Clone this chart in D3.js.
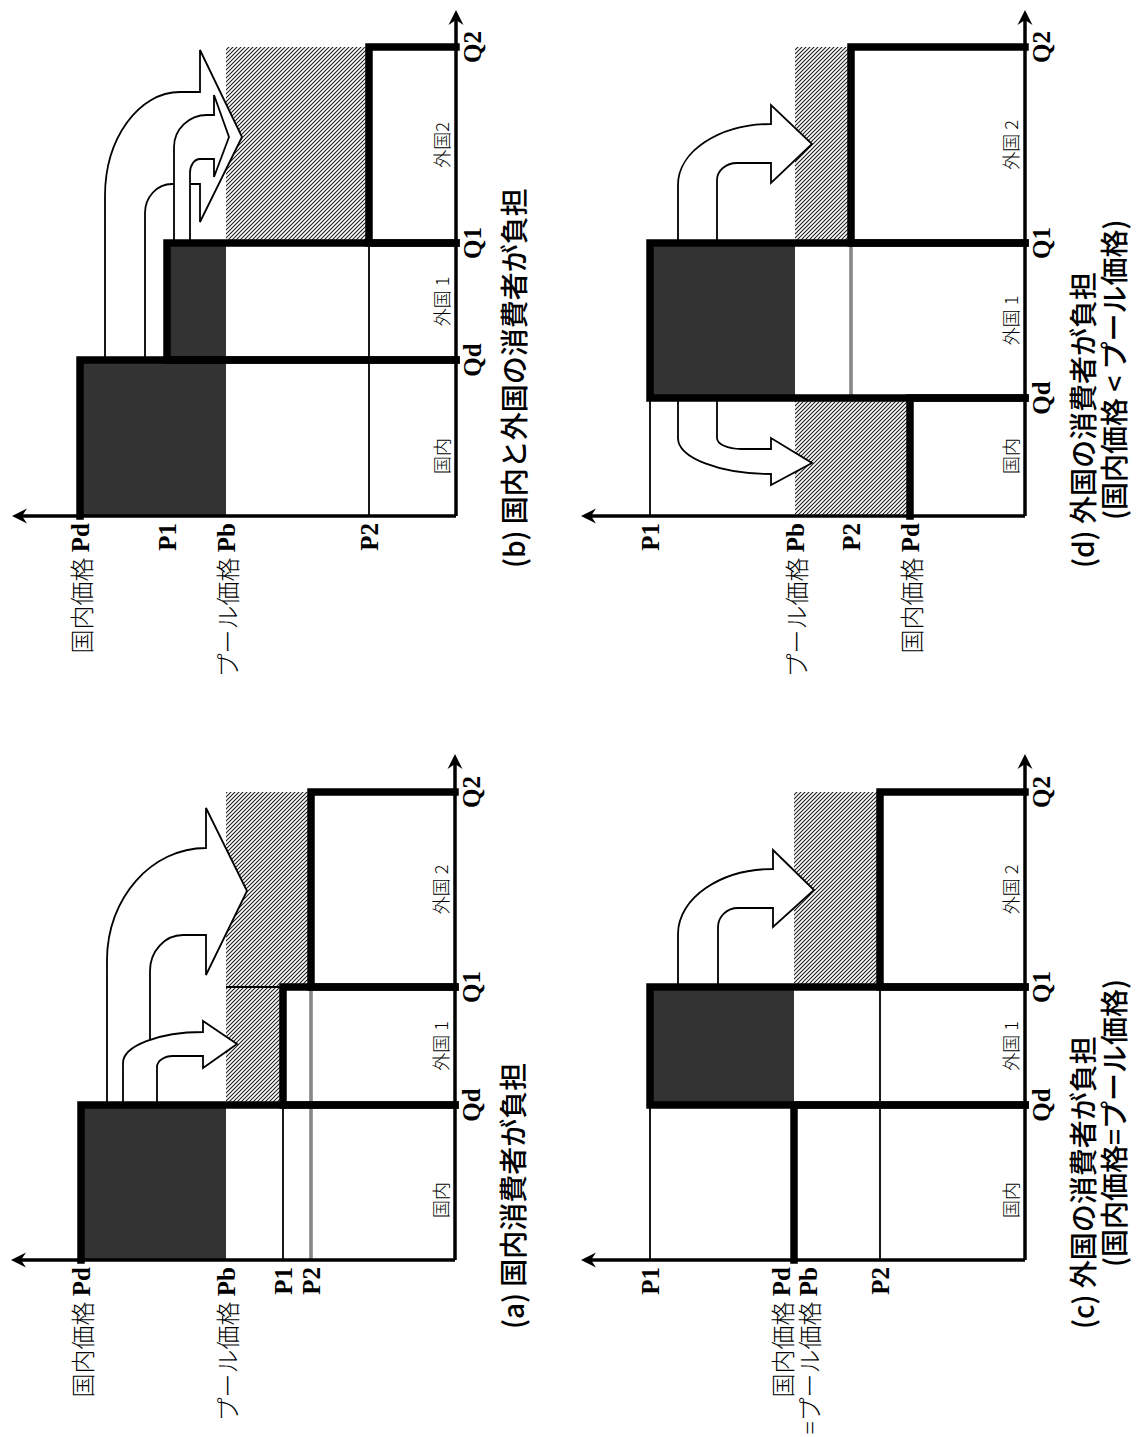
<!DOCTYPE html>
<html><head><meta charset="utf-8">
<script src="https://cdn.jsdelivr.net/npm/d3@7"></script>
<style>body{margin:0;background:#fff}</style>
</head><body>
<svg id="chart" width="1136" height="1437"></svg>
<script>
// ---------------- data (diagram units) ----------------
const qtyKeys = ["Qd", "Q1", "Q2"];
const priceKeys = ["Pd", "Pb", "P1", "P2"];

const qtyA = [155, 273, 468], priceA = [374, 229, 172, 144];
const qtyB = [156, 273, 469], priceB = [376, 230, 289, 87];
const qtyC = [155, 273, 468], priceC = [231, 231, 375, 145];
const qtyD = [118, 273, 469], priceD = [115, 230, 375, 174];

const barLabelsA = ["国内", "外国 1", "外国 2"];
const barLabelsB = ["国内", "外国 1", "外国2"];
const barLabelsC = ["国内", "外国 1", "外国 2"];
const barLabelsD = ["国内", "外国 1", "外国 2"];

const priceLabelsA = [["Pd", [["国内価格", "Pd"]]], ["Pb", [["プール価格", "Pb"]]], ["P1", [["", "P1"]]], ["P2", [["", "P2"]]]];
const priceLabelsB = [["Pd", [["国内価格", "Pd"]]], ["P1", [["", "P1"]]], ["Pb", [["プール価格", "Pb"]]], ["P2", [["", "P2"]]]];
const priceLabelsC = [["P1", [["", "P1"]]], ["Pd", [["国内価格", "Pd"], ["=プール価格", "Pb"]]], ["P2", [["", "P2"]]]];
const priceLabelsD = [["P1", [["", "P1"]]], ["Pb", [["プール価格", "Pb"]]], ["P2", [["", "P2"]]], ["Pd", [["国内価格", "Pd"]]]];

const captionA = ["(a) 国内消費者が負担"];
const captionB = ["(b) 国内と外国の消費者が負担"];
const captionC = ["(c) 外国の消費者が負担", "(国内価格=プール価格)"];
const captionD = ["(d) 外国の消費者が負担", "(国内価格 < プール価格)"];

// shaded regions [q0, q1, p0, p1] by level name
const darkA = [["0", "Qd", "Pb", "Pd"]];
const hatchA = [["Qd", "Q1", "P1", "Pb"], ["Q1", "Q2", "P2", "Pb"]];
const darkB = [["0", "Qd", "Pb", "Pd"], ["Qd", "Q1", "Pb", "P1"]];
const hatchB = [["Q1", "Q2", "P2", "Pb"]];
const darkC = [["Qd", "Q1", "Pb", "P1"]];
const hatchC = [["Q1", "Q2", "P2", "Pb"]];
const darkD = [["Qd", "Q1", "Pb", "P1"]];
const hatchD = [["0", "Qd", "Pd", "Pb"], ["Q1", "Q2", "P2", "Pb"]];

// thin reference lines: [kind, level, from, to, style]
const thinA = [["P", "P1", "0", "Qd", "single"], ["P", "P2", "0", "Q1", "double"], ["Q", "Q1", "P1", "Pb", "single"]];
const thinB = [["P", "P2", "0", "Q1", "single"]];
const thinC = [["P", "P1", "0", "Qd", "single"], ["P", "P2", "0", "Q1", "single"]];
const thinD = [["P", "P1", "0", "Qd", "single"], ["P", "P2", "Qd", "Q1", "double"]];

// bent transfer arrows (diagram units)
const arrowsA = [
  {qb:155, pOut:348, pIn:305, qOut:412, qIn:325, pHead:249, qHeadOut:452, qHeadIn:285, qTip:369, pTip:208, rqO:112, rpO:99, rqI:36, rpI:33},
  {qb:155, pOut:332, pIn:298, qOut:228, qIn:204, pHead:252, qHeadOut:239, qHeadIn:192, qTip:216, pTip:218, rqO:31, rpO:80, rqI:11, rpI:16}
];
const arrowsB = [
  {qb:156, pOut:351, pIn:311, qOut:424, qIn:332, pHead:256, qHeadOut:466, qHeadIn:294, qTip:379, pTip:214, rqO:104, rpO:75, rqI:29, rpI:27},
  {qb:273, pOut:282, pIn:266, qOut:401, qIn:357, pHead:242, qHeadOut:421, qHeadIn:339, qTip:379, pTip:227, rqO:32, rpO:33, rqI:14, rpI:10}
];
const arrowsC = [
  {qb:273, pOut:347, pIn:307, qOut:391, qIn:352, pHead:252, qHeadOut:410, qHeadIn:333, qTip:370, pTip:211, rqO:65, rpO:95, rqI:19, rpI:20}
];
const arrowsD = [
  {qb:273, pOut:347, pIn:308, qOut:392, qIn:353, pHead:254, qHeadOut:411, qHeadIn:333, qTip:372, pTip:213, rqO:61, rpO:93, rqI:17, rpI:20},
  {qb:118, pOut:347, pIn:308, qOut:42, qIn:67, pHead:254, qHeadOut:31, qHeadIn:78, qTip:53, pTip:213, rqO:36, rpO:93, rqI:11, rpI:24}
];

// ---------------- drawing ----------------
const JP = "'Noto Sans CJK JP','Noto Sans CJK SC',sans-serif";
const SERIF = "'Liberation Serif','DejaVu Serif',serif";
const svg = d3.select("#chart");
svg.append("rect").attr("width", 1136).attr("height", 1437).attr("fill", "#fff");

const defs = svg.append("defs");
const pat = defs.append("pattern").attr("id", "hatch").attr("patternUnits", "userSpaceOnUse")
  .attr("width", 4).attr("height", 4);
pat.append("rect").attr("width", 4).attr("height", 4).attr("fill", "#fff");
pat.append("path").attr("d", "M-1,-1 L5,5 M-1,3 L1,5 M3,-1 L5,1")
  .attr("stroke", "#1a1a1a").attr("stroke-width", 1.05);

const x = d3.scaleLinear().domain([0, 500]).range([0, 500]);      // quantity
const y = d3.scaleLinear().domain([0, 500]).range([0, -500]);     // price
const K = 0.5523;

function arrowPath(a) {
  const dir = Math.sign(a.qOut - a.qb);
  const P = (q, p) => `${x(q)},${y(p)}`;
  return [
    `M${P(a.qb, a.pOut)}`,
    `L${P(a.qOut - dir * a.rqO, a.pOut)}`,
    `C${P(a.qOut - dir * a.rqO * (1 - K), a.pOut)} ${P(a.qOut, a.pOut - a.rpO * (1 - K))} ${P(a.qOut, a.pOut - a.rpO)}`,
    `L${P(a.qOut, a.pHead)}`,
    `L${P(a.qHeadOut, a.pHead)}`,
    `L${P(a.qTip, a.pTip)}`,
    `L${P(a.qHeadIn, a.pHead)}`,
    `L${P(a.qIn, a.pHead)}`,
    `L${P(a.qIn, a.pIn - a.rpI)}`,
    `C${P(a.qIn, a.pIn - a.rpI * (1 - K))} ${P(a.qIn - dir * a.rqI * (1 - K), a.pIn)} ${P(a.qIn - dir * a.rqI, a.pIn)}`,
    `L${P(a.qb, a.pIn)}`, "Z"].join(" ");
}

function drawPanel(cfg) {
  const g = svg.append("g").attr("transform", `translate(${cfg.ox},${cfg.oy}) rotate(-90)`);
  const lv = {"0": 0};
  qtyKeys.forEach((k, i) => lv[k] = cfg.qty[i]);
  priceKeys.forEach((k, i) => lv[k] = cfg.price[i]);

  const rect = r => ({x: x(lv[r[0]]), y: y(lv[r[3]]), w: x(lv[r[1]]) - x(lv[r[0]]), h: y(lv[r[2]]) - y(lv[r[3]])});
  cfg.dark.forEach(r => { const b = rect(r); g.append("rect").attr("x", b.x).attr("y", b.y).attr("width", b.w).attr("height", b.h).attr("fill", "#333"); });
  cfg.hatch.forEach(r => { const b = rect(r); g.append("rect").attr("x", b.x).attr("y", b.y).attr("width", b.w).attr("height", b.h).attr("fill", "url(#hatch)"); });

  // thin lines
  cfg.thin.forEach(t => {
    let x1, x2, y1, y2;
    if (t[0] === "P") { y1 = y2 = y(lv[t[1]]); x1 = x(lv[t[2]]); x2 = x(lv[t[3]]); }
    else { x1 = x2 = x(lv[t[1]]); y1 = y(lv[t[2]]); y2 = y(lv[t[3]]); }
    if (t[4] === "double") {
      g.append("line").attr("x1", x1).attr("x2", x2).attr("y1", y1).attr("y2", y2).attr("stroke", "#111").attr("stroke-width", 2.8);
      g.append("line").attr("x1", x1).attr("x2", x2).attr("y1", y1).attr("y2", y2).attr("stroke", "#fff").attr("stroke-width", 1.0);
    } else {
      g.append("line").attr("x1", x1).attr("x2", x2).attr("y1", y1).attr("y2", y2).attr("stroke", "#000").attr("stroke-width", 1.8);
    }
  });

  // arrows
  cfg.arrows.forEach(a => g.append("path").attr("d", arrowPath(a)).attr("fill", "#fff").attr("stroke", "#000").attr("stroke-width", 1.8).attr("stroke-linejoin", "miter"));

  // thick bar outlines
  const barH = [lv.Pd, lv.P1, lv.P2];
  const edges = [0, lv.Qd, lv.Q1, lv.Q2];
  barH.forEach((h, i) => {
    const q0 = edges[i], q1 = edges[i + 1];
    const d = i === 0
      ? `M${x(q0)},${y(h)} L${x(q1)},${y(h)} L${x(q1)},${y(0)}`
      : `M${x(q0)},${y(0)} L${x(q0)},${y(h)} L${x(q1)},${y(h)} L${x(q1)},${y(0)}`;
    g.append("path").attr("d", d).attr("fill", "none").attr("stroke", "#000").attr("stroke-width", 7.5).attr("stroke-linejoin", "miter").attr("stroke-linecap", "square");
  });

  // axes
  const pTip = 444, qTip = 506;
  g.append("line").attr("x1", x(0)).attr("y1", y(0)).attr("x2", x(0)).attr("y2", y(pTip) + 8).attr("stroke", "#000").attr("stroke-width", 3.5);
  g.append("line").attr("x1", x(0)).attr("y1", y(0)).attr("x2", x(qTip) - 8).attr("y2", y(0)).attr("stroke", "#000").attr("stroke-width", 3.5);
  const tx = x(0), ty = y(pTip);
  g.append("path").attr("d", `M${tx},${ty} L${tx - 7.5},${ty + 15} L${tx},${ty + 10} L${tx + 7.5},${ty + 15} Z`).attr("fill", "#000");
  const rx = x(qTip), ry = y(0);
  g.append("path").attr("d", `M${rx},${ry} L${rx - 15},${ry - 7.5} L${rx - 10},${ry} L${rx - 15},${ry + 7.5} Z`).attr("fill", "#000");

  // quantity tick labels
  qtyKeys.forEach(k => g.append("text").attr("x", x(lv[k])).attr("y", 25).attr("text-anchor", "middle")
    .attr("font-family", SERIF).attr("font-weight", "bold").attr("font-size", 25).text(k));

  // price labels
  cfg.priceLabels.forEach(([k, lines]) => {
    lines.forEach((ln, i) => {
      const t = g.append("text").attr("x", -7).attr("y", y(lv[k]) + (i - (lines.length - 1) / 2) * 27)
        .attr("text-anchor", "end").attr("dominant-baseline", "central");
      if (ln[0]) t.append("tspan").attr("font-family", JP).attr("font-weight", 300).attr("font-size", 24).text(ln[0] + " ");
      t.append("tspan").attr("font-family", SERIF).attr("font-weight", "bold").attr("font-size", 25).text(ln[1]);
    });
  });

  // bar labels
  const labelQ = [60, (lv.Qd + lv.Q1) / 2, (lv.Q1 + lv.Q2) / 2];
  cfg.barLabels.forEach((s, i) => g.append("text").attr("x", x(labelQ[i])).attr("y", y(7)).attr("text-anchor", "middle")
    .attr("font-family", JP).attr("font-weight", 300).attr("font-size", 18).text(s));

  // caption
  cfg.caption.forEach((s, i) => g.append("text").attr("x", x(cfg.capStart[i])).attr("y", 57 + i * 31)
    .attr("dominant-baseline", "central").attr("font-family", JP).attr("font-weight", 500).attr("font-size", 28).text(s));
}

drawPanel({ox: 456, oy: 516, qty: qtyB, price: priceB, dark: darkB, hatch: hatchB, thin: thinB, arrows: arrowsB, barLabels: barLabelsB, priceLabels: priceLabelsB, caption: captionB, capStart: [-52]});
drawPanel({ox: 1025, oy: 516, qty: qtyD, price: priceD, dark: darkD, hatch: hatchD, thin: thinD, arrows: arrowsD, barLabels: barLabelsD, priceLabels: priceLabelsD, caption: captionD, capStart: [-52, -4]});
drawPanel({ox: 455, oy: 1260, qty: qtyA, price: priceA, dark: darkA, hatch: hatchA, thin: thinA, arrows: arrowsA, barLabels: barLabelsA, priceLabels: priceLabelsA, caption: captionA, capStart: [-69]});
drawPanel({ox: 1025, oy: 1260, qty: qtyC, price: priceC, dark: darkC, hatch: hatchC, thin: thinC, arrows: arrowsC, barLabels: barLabelsC, priceLabels: priceLabelsC, caption: captionC, capStart: [-69, -7]});
</script>
</body></html>
